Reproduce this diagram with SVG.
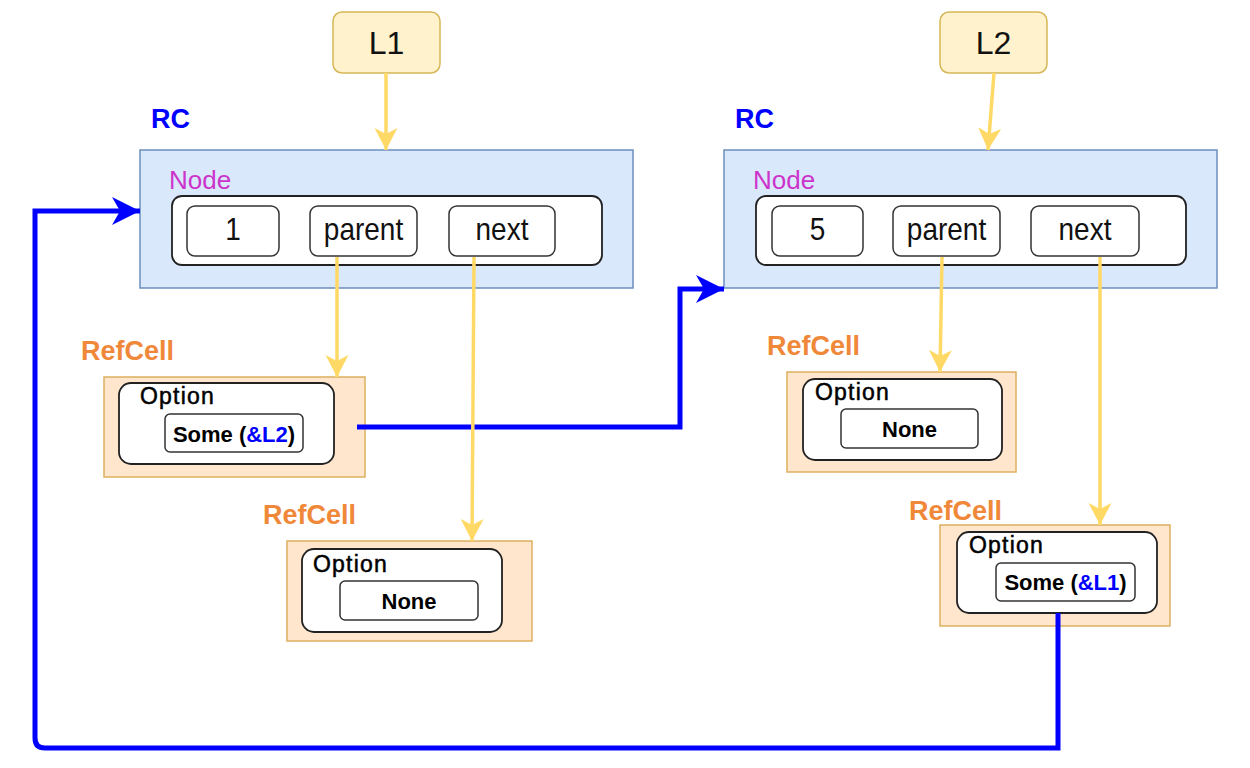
<svg xmlns="http://www.w3.org/2000/svg" width="1250" height="768" viewBox="0 0 1250 768">
<style>
text{font-family:"Liberation Sans",Arial,sans-serif}
.lbox{fill:#fff2cc;stroke:#d6b656;stroke-width:1.5}
.rc{fill:#dae8fc;stroke:#6c8ebf;stroke-width:1.5}
.cell{fill:#ffe6cc;stroke:#ddb060;stroke-width:1.5}
.wb{fill:#ffffff;stroke:#222;stroke-width:1.8}
.fb{fill:#ffffff;stroke:#333;stroke-width:1.5}
.big{font-size:32px;fill:#111;text-anchor:middle}
.fld{font-size:28px;fill:#111;text-anchor:middle}
.rcl{font-size:27px;font-weight:bold;fill:#0000ff}
.node{font-size:26px;fill:#cc33cc}
.refl{font-size:27px;font-weight:bold;fill:#f0883a}
.opt{font-size:23px;fill:#000;stroke:#000;stroke-width:0.5;letter-spacing:1.2px}
.val{font-size:22px;font-weight:bold;fill:#000;text-anchor:middle}
.ref{fill:#0000ff}
.ya{fill:none;stroke:#ffd966;stroke-width:3.5;marker-end:url(#ya)}
.ba{fill:none;stroke:#0000ff;stroke-width:5;marker-end:url(#ba)}
</style>
<defs>
<marker id="ya" markerUnits="userSpaceOnUse" markerWidth="24" markerHeight="24" refX="22" refY="12" orient="auto">
<path d="M0,0.5 L22,12 L0,23.5 L6,12 z" fill="#ffd966"/>
</marker>
<marker id="ba" markerUnits="userSpaceOnUse" markerWidth="30" markerHeight="30" refX="28" refY="15" orient="auto">
<path d="M0,1 L28,15 L0,29 L8,15 z" fill="#0000ff"/>
</marker>
</defs>

<g id="L1"><rect class="lbox" x="333" y="12" width="107" height="61" rx="9"/><text class="big" x="386.5" y="54">L1</text></g>
<g id="L2"><rect class="lbox" x="940" y="12" width="107" height="61" rx="9"/><text class="big" x="993.5" y="54">L2</text></g>

<g id="rc1">
<text class="rcl" x="151" y="128">RC</text>
<rect class="rc" x="140" y="150" width="493" height="138"/>
<text class="node" x="169" y="189">Node</text>
<rect class="wb" x="172" y="196" width="430" height="69" rx="10"/>
<rect class="fb" x="187" y="206" width="92" height="50" rx="8"/><text class="fld" transform="translate(233,240) scale(1,1.12)">1</text>
<rect class="fb" x="310" y="206" width="107" height="50" rx="8"/><text class="fld" transform="translate(363.5,240) scale(1,1.12)">parent</text>
<rect class="fb" x="449" y="206" width="106" height="50" rx="8"/><text class="fld" transform="translate(502,240) scale(1,1.12)">next</text>
</g>

<g id="rc2">
<text class="rcl" x="735" y="128">RC</text>
<rect class="rc" x="724" y="150" width="493" height="138"/>
<text class="node" x="753" y="189">Node</text>
<rect class="wb" x="756" y="196" width="430" height="69" rx="10"/>
<rect class="fb" x="772" y="206" width="91" height="50" rx="8"/><text class="fld" transform="translate(817.5,240) scale(1,1.12)">5</text>
<rect class="fb" x="893" y="206" width="107" height="50" rx="8"/><text class="fld" transform="translate(946.5,240) scale(1,1.12)">parent</text>
<rect class="fb" x="1031" y="206" width="108" height="50" rx="8"/><text class="fld" transform="translate(1085,240) scale(1,1.12)">next</text>
</g>

<g id="cell1">
<text class="refl" x="81" y="360">RefCell</text>
<rect class="cell" x="104" y="377" width="261" height="100"/>
<rect class="wb" x="119" y="383" width="215" height="81" rx="12"/>
<text class="opt" x="140" y="404">Option</text>
<rect class="fb" x="165" y="414" width="138" height="38" rx="5"/>
<text class="val" x="234" y="442">Some (<tspan class="ref">&amp;L2</tspan>)</text>
</g>

<g id="cell2">
<text class="refl" x="263" y="524">RefCell</text>
<rect class="cell" x="287" y="541" width="245" height="100"/>
<rect class="wb" x="302" y="549" width="200" height="83" rx="12"/>
<text class="opt" x="313" y="572">Option</text>
<rect class="fb" x="340" y="581" width="138" height="39" rx="5"/>
<text class="val" x="409" y="609">None</text>
</g>

<g id="cell3">
<text class="refl" x="767" y="355">RefCell</text>
<rect class="cell" x="787" y="372" width="229" height="100"/>
<rect class="wb" x="803" y="379" width="199" height="81" rx="12"/>
<text class="opt" x="815" y="400">Option</text>
<rect class="fb" x="841" y="409" width="137" height="39" rx="5"/>
<text class="val" x="909.5" y="437">None</text>
</g>

<g id="cell4">
<text class="refl" x="909" y="520">RefCell</text>
<rect class="cell" x="940" y="525" width="230" height="101"/>
<rect class="wb" x="957" y="532" width="200" height="81" rx="12"/>
<text class="opt" x="969" y="553">Option</text>
<rect class="fb" x="996" y="563" width="139" height="38" rx="5"/>
<text class="val" x="1065.5" y="590">Some (<tspan class="ref">&amp;L1</tspan>)</text>
</g>

<g id="connectors">
<path class="ba" d="M357,427 H680 V289 H724"/>
<path class="ba" d="M1058,613 V748 H45 Q35,748 35,738 V211 H140"/>
<path class="ya" d="M386,73 V150"/>
<path class="ya" d="M994,73 L988,150"/>
<path class="ya" d="M337,257 V377"/>
<path class="ya" d="M474,257 L472,541"/>
<path class="ya" d="M942,257 L940,372"/>
<path class="ya" d="M1100,257 V525"/>
</g>
</svg>
